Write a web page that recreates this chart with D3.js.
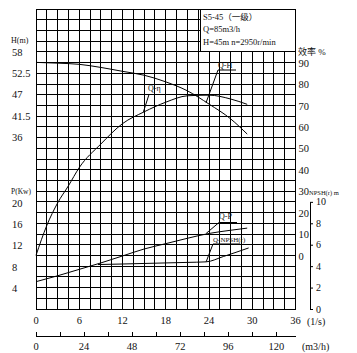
<!DOCTYPE html>
<html>
<head>
<meta charset="utf-8">
<script src="https://cdn.jsdelivr.net/npm/d3@7"></script>
<style>
body { margin: 0; background: #fff; }
text { font-family: "Liberation Serif", "DejaVu Serif", "Noto Sans CJK SC", serif; fill: #111; }
</style>
</head>
<body>
<script>
// curve readings (Q in l/s)
var flowLs = [0, 3, 6, 9, 12, 15, 18, 21, 24, 27, 29.3];
var headM = [55.3, 55.1, 54.8, 54.0, 53.0, 52.0, 50.3, 48.0, 44.6, 40.8, 36.9];
var powerKw = [5.1, 6.2, 7.4, 8.6, 9.9, 11.2, 12.2, 13.2, 14.1, 14.7, 15.1];
var effFlow = [0, 1.5, 3, 4.5, 6, 9, 12, 15, 18, 21, 24, 27, 29.3];
var effPct = [0, 14, 24.5, 32.5, 41, 52, 61.5, 67, 71.5, 74.5, 74.8, 73, 70.5];
var npshFlow = [8.6, 12, 15, 18, 21, 23.6, 26, 29.5];
var npshM = [4.15, 4.2, 4.25, 4.3, 4.35, 4.4, 4.9, 5.7];

// design point and curve label anchors
var designQ = 23.6;
var designH = 45;
var designP = 14.1;
var designNpsh = 4.4;
var effLabelQ = 14.9;
var effLabelPct = 67;

var hTicks = [58, 52.5, 47, 41.5, 36];
var effTicks = [0, 10, 20, 30, 40, 50, 60, 70, 80, 90];
var pTicks = [4, 8, 12, 16, 20];
var npshTicks = [0, 2, 4, 6, 8, 10];
var lsTicks = [0, 6, 12, 18, 24, 30, 36];
var m3hTicks = [0, 12, 24, 36, 48, 60, 72, 84, 96, 108, 120];
var m3hLabels = [0, 24, 48, 72, 96, 120];
var headerLines = ['S5-45（一级）', 'Q=85m3/h', 'H=45m  n=2950r/min'];

var x = d3.scaleLinear().domain([0, 36]).range([36, 295.5]);
var xm = d3.scaleLinear().domain([0, 129.6]).range([36, 295.5]);
var yH = d3.scaleLinear().domain([69, -8]).range([9, 309]);
var yEff = d3.scaleLinear().domain([115, -25]).range([9, 309]);
var yP = d3.scaleLinear().domain([56, 0]).range([9, 309]);
var yN = d3.scaleLinear().domain([28, 0]).range([9, 309]);

window.document.addEventListener('DOMContentLoaded', init, false);

function init() {
    var svg = d3.select('body').append('svg')
        .attr('width', 357)
        .attr('height', 353);

    drawGrid(svg);
    drawHeader(svg);
    drawCurves(svg);
    drawLabels(svg);
    drawAxes(svg);
}

function drawGrid(svg) {
    var g = svg.append('g')
        .attr('stroke', '#000')
        .attr('stroke-width', 1)
        .attr('shape-rendering', 'crispEdges');

    g.selectAll('.v').data(d3.range(0, 36.01, 1.5)).enter()
        .append('line')
        .attr('x1', (d) => x(d)).attr('x2', (d) => x(d))
        .attr('y1', yP(56)).attr('y2', yP(0));

    g.selectAll('.h').data(d3.range(0, 56.01, 2)).enter()
        .append('line')
        .attr('x1', x(0)).attr('x2', x(36))
        .attr('y1', (d) => yP(d)).attr('y2', (d) => yP(d));
}

function drawHeader(svg) {
    svg.append('rect')
        .attr('x', 200.5).attr('y', yP(56))
        .attr('width', x(36) - 200.5).attr('height', yP(48) - yP(56))
        .attr('fill', '#fff').attr('stroke', '#000')
        .attr('shape-rendering', 'crispEdges');

    svg.selectAll('.hdr').data(headerLines).enter()
        .append('text')
        .attr('x', 203)
        .attr('y', (d, i) => 17 + i * 12.5)
        .attr('dy', '0.35em')
        .attr('font-size', '8.5px')
        .text((d) => d);
}

function drawCurves(svg) {
    var g = svg.append('g').attr('fill', 'none').attr('stroke', '#000').attr('stroke-width', 1);

    var lineH = d3.line().x((d, i) => x(flowLs[i])).y((d) => yH(d)).curve(d3.curveMonotoneX);
    var lineP = d3.line().x((d, i) => x(flowLs[i])).y((d) => yP(d)).curve(d3.curveMonotoneX);
    var lineE = d3.line().x((d, i) => x(effFlow[i])).y((d) => yEff(d)).curve(d3.curveMonotoneX);
    var lineN = d3.line().x((d, i) => x(npshFlow[i])).y((d) => yN(d)).curve(d3.curveMonotoneX);

    g.append('path').attr('d', lineH(headM));
    g.append('path').attr('d', lineP(powerKw));
    g.append('path').attr('d', lineE(effPct));
    g.append('path').attr('d', lineN(npshM));
}

function drawLabels(svg) {
    var labels = [
        { text: 'Q-H', tx: 218, ty: 65, size: 8, ux: 218, uw: 18, uy: 70, px: x(designQ), py: yH(designH) },
        { text: 'Q-η', tx: 148, ty: 88.5, size: 8, ux: 149, uw: 18, uy: 94.5, px: x(effLabelQ), py: yEff(effLabelPct) },
        { text: 'Q-P', tx: 219, ty: 216, size: 8, ux: 219, uw: 18, uy: 222.5, px: x(designQ), py: yP(designP) },
        { text: 'Q-NPSH(r)', tx: 213, ty: 239.5, size: 7, ux: 213, uw: 27, uy: 244, px: x(designQ), py: yN(designNpsh) }
    ];

    var g = svg.append('g');
    labels.forEach(function (l) {
        g.append('text')
            .attr('x', l.tx).attr('y', l.ty).attr('dy', '0.35em')
            .attr('font-size', l.size + 'px')
            .text(l.text);
        g.append('line')
            .attr('x1', l.ux).attr('x2', l.ux + l.uw)
            .attr('y1', l.uy).attr('y2', l.uy)
            .attr('stroke', '#000');
        g.append('line')
            .attr('x1', l.ux).attr('y1', l.uy)
            .attr('x2', l.px).attr('y2', l.py)
            .attr('stroke', '#000');
    });
}

function drawAxes(svg) {
    // left: head
    svg.append('text').attr('x', 11).attr('y', 40.5).attr('dy', '0.35em')
        .attr('font-size', '8px').text('H(m)');
    svg.selectAll('.ht').data(hTicks).enter()
        .append('text')
        .attr('x', 12).attr('y', (d) => yH(d)).attr('dy', '0.35em')
        .attr('font-size', '10.5px')
        .text((d) => d);

    // left: power
    svg.append('text').attr('x', 11).attr('y', 191).attr('dy', '0.35em')
        .attr('font-size', '7.5px').text('P(Kw)');
    svg.selectAll('.pt').data(pTicks).enter()
        .append('text')
        .attr('x', 12).attr('y', (d) => yP(d) + 1).attr('dy', '0.35em')
        .attr('font-size', '10.5px')
        .text((d) => d);

    // right: efficiency
    svg.append('text').attr('x', 298).attr('y', 51.5).attr('dy', '0.35em')
        .attr('font-size', '9px').text('效率 %');
    svg.selectAll('.et').data(effTicks).enter()
        .append('text')
        .attr('x', 298.5).attr('y', (d) => yEff(d) + 0.5).attr('dy', '0.35em')
        .attr('font-size', '10.5px')
        .text((d) => d);

    // right: NPSH
    var yN2 = d3.scaleLinear().domain([0, 10]).range([yN(0), yN(10)]);
    var axN = svg.append('g')
        .attr('transform', 'translate(310,0)')
        .call(d3.axisRight(yN2).tickValues(npshTicks).tickSize(3).tickSizeOuter(0).tickPadding(3));
    axN.select('.domain').attr('stroke', '#000');
    axN.selectAll('line').attr('stroke', '#000');
    axN.selectAll('text')
        .attr('font-family', '"Liberation Serif", serif')
        .attr('font-size', '10px')
        .attr('fill', '#111')
        .attr('dy', '0.3em');
    svg.append('text').attr('x', 309).attr('y', 193).attr('dy', '0.35em')
        .attr('font-size', '6.5px').text('NPSH(r) m');

    // bottom: l/s
    svg.selectAll('.lt').data(lsTicks).enter()
        .append('text')
        .attr('x', (d) => x(d)).attr('y', 320).attr('dy', '0.35em')
        .attr('text-anchor', 'middle')
        .attr('font-size', '10.5px')
        .text((d) => d);
    svg.append('text').attr('x', 307).attr('y', 321.5).attr('dy', '0.35em')
        .attr('font-size', '10px').text('(1/s)');

    // bottom: m3/h
    var g = svg.append('g').attr('stroke', '#000').attr('shape-rendering', 'crispEdges');
    g.append('line').attr('x1', xm(0)).attr('x2', x(36)).attr('y1', 336.5).attr('y2', 336.5);
    g.selectAll('.mt').data(m3hTicks).enter()
        .append('line')
        .attr('x1', (d) => xm(d)).attr('x2', (d) => xm(d))
        .attr('y1', 336.5).attr('y2', 331.5);
    svg.selectAll('.ml').data(m3hLabels).enter()
        .append('text')
        .attr('x', (d) => xm(d)).attr('y', 346).attr('dy', '0.35em')
        .attr('text-anchor', 'middle')
        .attr('font-size', '10.5px')
        .text((d) => d);
    svg.append('text').attr('x', 302).attr('y', 346).attr('dy', '0.35em')
        .attr('font-size', '10px').text('(m3/h)');
}
</script>
</body>
</html>
